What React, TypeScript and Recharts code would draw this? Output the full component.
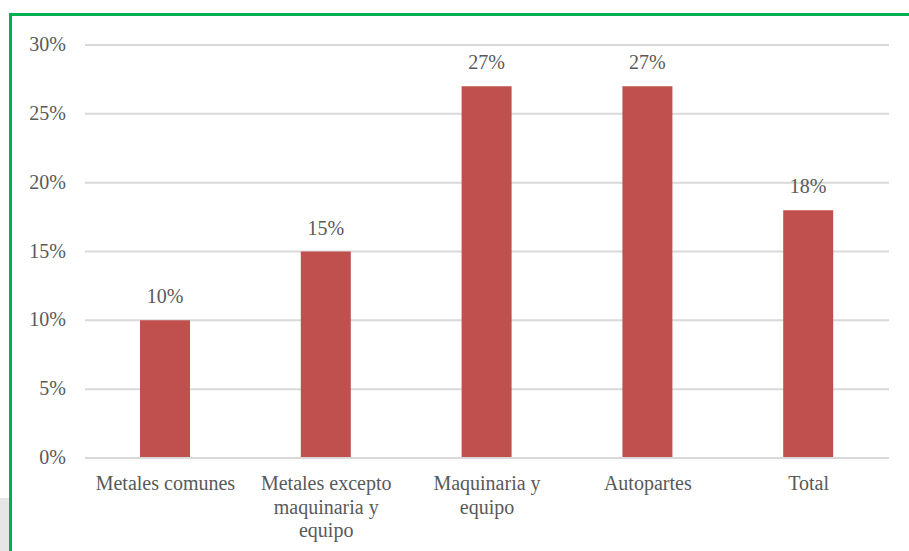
import React from "react";
import { BarChart, Bar, XAxis, YAxis, CartesianGrid, LabelList } from "recharts";

const categories = [
  "Metales comunes",
  "Metales excepto maquinaria y equipo",
  "Maquinaria y equipo",
  "Autopartes",
  "Total",
];
const values = [10, 15, 27, 27, 18];
const yTicks = [0, 5, 10, 15, 20, 25, 30];

const data = categories.map((c, i) => ({ name: c, value: values[i] }));

const FONT = '"Liberation Serif", "DejaVu Serif", serif';
const TEXT = "#595959";
const textStyle: React.CSSProperties = { fontFamily: FONT, fontSize: 20 };

function wrap(label: string, maxChars: number): string[] {
  const words = label.split(" ");
  const lines: string[] = [];
  let cur = "";
  for (const w of words) {
    const next = cur ? cur + " " + w : w;
    if (next.length > maxChars && cur) {
      lines.push(cur);
      cur = w;
    } else cur = next;
  }
  if (cur) lines.push(cur);
  return lines;
}

const XTick = (props: any) => {
  const { x, y, payload } = props;
  const lines = wrap(String(payload.value), 16);
  return (
    <text x={x} y={y} textAnchor="middle" fill={TEXT} style={textStyle}>
      {lines.map((l, i) => (
        <tspan key={i} x={x} dy={i === 0 ? 24 : 23.5}>
          {l}
        </tspan>
      ))}
    </text>
  );
};

const YTick = (props: any) => {
  const { y, payload } = props;
  return (
    <text x={66} y={y} dy={6} textAnchor="end" fill={TEXT} style={textStyle}>
      {payload.value + "%"}
    </text>
  );
};

const BarLabel = (props: any) => {
  const { x, y, width, value } = props;
  return (
    <text x={x + width / 2} y={y - 17} textAnchor="middle" fill={TEXT} style={textStyle}>
      {value + "%"}
    </text>
  );
};

export default function App() {
  return (
    <div style={{ position: "absolute", left: 0, top: 0, width: 909, height: 551, background: "#fff", overflow: "hidden", fontFamily: FONT }}>
      <div style={{ position: "absolute", left: 0, top: 498, width: 9, height: 53, background: "#e6e6e6" }} />
      <div style={{ position: "absolute", left: 9, top: 13, width: 900, height: 3, background: "#00B050" }} />
      <div style={{ position: "absolute", left: 9, top: 13, width: 3, height: 538, background: "#00B050" }} />
      <div style={{ position: "absolute", left: 0, top: 0 }}>
        <BarChart width={909} height={551} data={data} margin={{ top: 45, right: 20, left: 0, bottom: 0 }}>
          <CartesianGrid vertical={false} stroke="#d9d9d9" strokeWidth={2} />
          <XAxis
            dataKey="name"
            height={93}
            axisLine={{ stroke: "#d9d9d9", strokeWidth: 2 }}
            tickLine={false}
            tick={<XTick />}
            interval={0}
          />
          <YAxis
            width={85}
            domain={[0, 30]}
            ticks={yTicks}
            axisLine={false}
            tickLine={false}
            tick={<YTick />}
          />
          <Bar dataKey="value" fill="#C0504D" isAnimationActive={false} barSize={50}>
            <LabelList dataKey="value" content={<BarLabel />} />
          </Bar>
        </BarChart>
      </div>
    </div>
  );
}
